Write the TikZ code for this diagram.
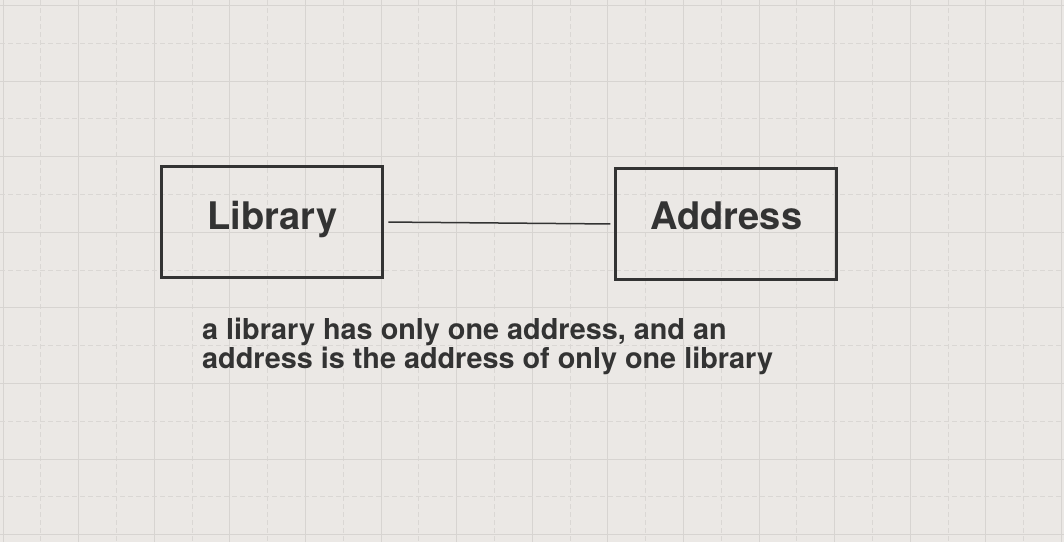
\documentclass[tikz,border=0pt]{standalone}
\usepackage{fontspec}
\setmainfont{TeX Gyre Heros}
\usetikzlibrary{positioning}
\definecolor{paper}{RGB}{235,232,229}
\definecolor{gridline}{RGB}{215,212,209}
\definecolor{ink}{RGB}{51,51,51}

\begin{document}
\begin{tikzpicture}[x=1pt,y=-1pt,
  entity/.style={draw=ink,line width=3pt,minimum width=221pt,minimum height=111pt,
    inner sep=0pt,text=ink,font=\fontsize{38}{40}\selectfont\bfseries,
    text height=27pt,text depth=13pt},
  major/.style={gridline,line width=1pt},
  minor/.style={gridline!85!paper,line width=1pt,dash pattern=on 5pt off 3pt}]
	\fill[paper] (0,0) rectangle (1064,542);
	\useasboundingbox (0,0) rectangle (1064,542);
	% grid
	\foreach \i in {0,...,14} {
		\draw[major] ({3+75.6*\i},0) -- ({3+75.6*\i},542);
		\draw[minor] ({40.8+75.6*\i},0) -- ({40.8+75.6*\i},542);
	}
	\foreach \j in {0,...,7} {
		\draw[major] (0,{5.5+75.6*\j}) -- (1064,{5.5+75.6*\j});
		\draw[minor] (0,{43.3+75.6*\j}) -- (1064,{43.3+75.6*\j});
	}
	\node[entity] (lib) at (272.4,222) {Library};
	\node[entity,text depth=17pt,right=230pt of lib,yshift=-2pt] (addr) {Address};
	\draw[ink,line width=1.5pt,shorten <=4pt,shorten >=4pt] (lib.east) -- (addr.west);
	\node[anchor=north west,align=left,inner sep=0pt,text=ink,
	  font=\fontsize{28.8}{29}\selectfont\bfseries] (note) at (202,318)
	  {a library has only one address, and an\\address is the address of only one library};
\end{tikzpicture}
\end{document}
